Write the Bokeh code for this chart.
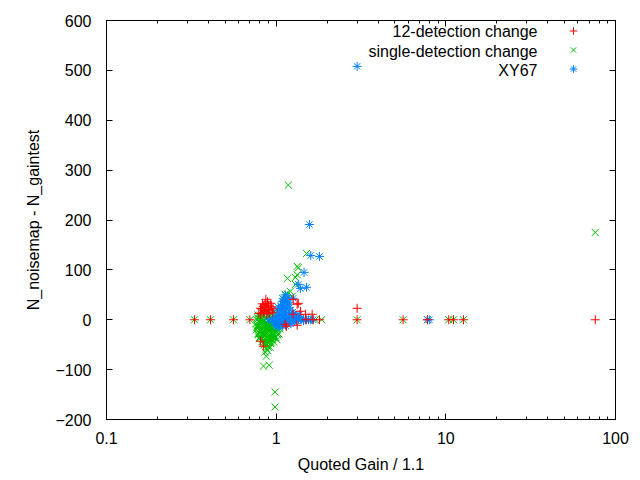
from bokeh.plotting import figure
from bokeh.models import (LogAxis, LinearAxis, Label, Legend, LegendItem,
                          NumeralTickFormatter, FixedTicker, LogTicker)
from bokeh.embed import file_html
from bokeh.resources import INLINE

# ---------------- data ----------------
# 12-detection change (red "+")
det12_gain = [0.33, 0.41, 0.56, 0.70, 3.0, 5.6, 7.8, 10.4, 11.1, 12.7, 76.0, 1.50, 1.65, 1.80,
              3.0, 1.33, 1.35, 0.886, 0.87, 1.39, 1.49, 1.63, 1.33, 1.15, 1.13, 1.26, 0.81, 0.84, 1.26,
              0.82, 0.84, 0.86, 0.88, 0.90, 0.92, 0.94, 0.85, 0.89, 0.83, 0.91, 0.95, 0.81, 0.87,
              0.93, 0.86, 0.84, 0.90, 0.88, 0.96, 0.79, 0.81]
det12_diff = [0, 0, 0, 0, 0, 0, 0, 0, 0, 0, 0, 0, 0, 0,
              23, 31, 33, 33, 41, 17, 11, 11, -11, -13, -9, 11, -43, -53, 41,
              22, 27, 31, 24, 29, 20, 26, 16, 36, 32, 13, 15, 12, 19,
              33, 24, 14, 20, 12, 22, 13, 23]

# single-detection change (green "x")
single_gain = [0.33, 0.41, 0.56, 0.70, 3.0, 5.6, 7.8, 10.4, 11.1, 12.7, 1.55, 1.70, 1.85,
               1.18, 1.51, 1.33, 1.35, 1.165, 1.30, 1.33, 1.165, 1.245, 1.21, 1.13, 1.30, 1.09, 76.0,
               0.875, 0.898, 0.875, 0.842, 0.91, 0.985, 0.985, 0.92, 0.86,
               0.78, 0.80, 0.82, 0.84, 0.86, 0.88, 0.90, 0.92, 0.94, 0.96, 0.98, 1.00, 1.03, 1.05,
               0.79, 0.81, 0.83, 0.85, 0.87, 0.89, 0.91, 0.93, 0.95, 0.97, 0.99, 1.02, 0.84, 0.87,
               0.89, 0.92, 0.86, 0.80, 0.77, 0.76, 0.83, 0.88, 0.90, 0.94, 0.97, 1.01, 1.04, 1.06,
               0.82, 0.86, 0.90, 0.95, 1.00, 0.93, 0.85, 0.91, 0.78, 0.80, 0.88, 0.96, 0.99, 0.84,
               0.77, 0.79, 0.81, 0.83, 0.85, 0.87, 0.89, 0.91, 0.93, 0.95, 0.97, 0.99, 1.01, 1.03,
               0.78, 0.80, 0.82, 0.84, 0.86, 0.88, 0.90, 0.92, 0.94, 0.96, 0.98, 1.00, 0.85, 0.89,
               0.93, 0.87, 0.91, 0.83, 0.95, 0.81,
               0.775, 0.795, 0.815, 0.835, 0.855, 0.875, 0.895, 0.915, 0.935, 0.955, 0.975, 0.995,
               0.775, 0.795, 0.815, 0.835, 0.855, 0.875, 0.895, 0.915, 0.935, 0.955, 0.975, 0.995,
               0.765, 0.785, 0.805, 0.825, 0.845, 0.865, 0.885, 0.905, 0.925, 0.945, 0.965, 0.985,
               1.015, 1.035, 1.05, 1.02]
single_diff = [0, 0, 0, 0, 0, 0, 0, 0, 0, 0, 0, 0, 0,
               270, 133, 107, 104, 83, 85, 90, 51, 47, 57, 51, 71, 43, 175,
               -57, -47, -73, -93, -91, -145, -175, -55, -65,
               10, -5, 5, -15, 12, -25, -8, 3, -20, -35, -12, 8, -5, -18,
               -20, -30, -38, -45, -40, -33, -42, -28, -10, 15, -25, -30, 20, 2,
               18, -18, -8, -12, 0, -8, -25, -50, -55, -40, -45, -40, 5, -10,
               15, -30, 10, 2, -2, -48, -3, -22, -15, -35, -15, -28, 5, 8,
               -15, 3, -2, 8, -20, -12, -2, 7, -5, -25, -30, -35, -20, -12,
               -28, -38, -18, -30, -8, 4, -36, -14, -34, -22, 0, -22, -50, -62,
               12, -48, -30, -10, -40, 0,
               -12, -26, -6, -40, -14, -28, -44, -16, -8, -32, -22, -36,
               4, -36, -20, -2, -32, -6, -22, -34, -46, -2, -8, -16,
               -20, -30, 8, -44, -26, -46, -18, -38, -12, -26, -18, -4,
               -20, -28, -2, 10]

# XY67 (blue "*")
xy67_gain = [3.0, 1.57, 1.60, 1.80, 1.46, 1.35, 1.39, 1.51, 1.26, 1.09, 1.13, 1.17,
             0.90, 0.95, 1.00, 1.05, 1.10, 1.15, 1.20, 1.25, 1.30, 1.35, 1.40, 1.45, 1.50, 1.55,
             1.60, 1.65, 7.8, 8.0,
             0.97, 1.00, 1.02, 1.05, 1.08, 1.10, 1.12, 1.15, 1.18, 1.20, 1.10, 1.05, 0.99, 1.13,
             1.20, 1.25, 1.30, 1.35, 1.28, 1.22, 1.15, 1.07, 1.02, 1.12, 1.40, 1.45, 1.08, 1.17,
             0.98, 1.01, 1.03, 1.06, 1.09, 1.11, 1.14, 1.16, 1.19, 1.23, 1.27, 1.32, 1.37, 1.04,
             1.09, 1.14, 1.24, 1.18, 1.10, 1.06, 1.03]
xy67_diff = [508, 191, 129, 127, 95, 71, 63, 65, 43, 37, 50, 45,
             0, 0, 0, 0, 0, 0, 0, 0, 0, 0, 0, 0, 0, 0,
             0, 0, 0, 0,
             -5, 5, -10, 10, 20, 30, 15, 5, -5, 10, -8, -15, -12, 38,
             25, 15, 8, 5, -3, -8, 22, 2, 18, -3, 3, -2, 25, 32,
             3, -3, 8, -5, 8, 22, 12, 30, 18, 5, 12, -2, 10, -12,
             -10, -12, -5, 35, 42, 28, 25]

legend_labels = ["12-detection change", "single-detection change", "XY67"]
y_ticks = [-200, -100, 0, 100, 200, 300, 400, 500, 600]

RED, GREEN, BLUE = "#ff0000", "#00c000", "#0080ff"
FONT = "Liberation Sans"

p = figure(width=632, height=476, x_axis_type="log", x_range=(0.1, 100), y_range=(-200, 600),
           output_backend="svg", toolbar_location=None,
           min_border_left=106, min_border_right=17, min_border_top=20, min_border_bottom=57)
p.grid.visible = False
p.outline_line_color = "black"
p.outline_line_width = 1
p.background_fill_color = "white"
p.border_fill_color = "white"

# series (green, then blue, then red on top)
r_green = p.scatter(single_gain, single_diff, marker="x", size=10, line_color=GREEN, line_width=1)
r_blue = p.scatter(xy67_gain, xy67_diff, marker="asterisk", size=9, line_color=BLUE, line_width=1)
r_red = p.scatter(det12_gain, det12_diff, marker="cross", size=9, line_color=RED, line_width=1)


def style(ax, show_labels):
    ax.axis_line_color = "black"
    ax.major_tick_in = 6
    ax.major_tick_out = 0
    ax.minor_tick_in = 3
    ax.minor_tick_out = 0
    ax.major_tick_line_color = "black"
    ax.minor_tick_line_color = "black"
    ax.major_label_text_font = FONT
    ax.axis_label_text_font = FONT
    ax.axis_label_text_font_style = "normal"
    ax.axis_label_text_color = "black"
    ax.axis_label_text_font_size = "16px"
    if show_labels:
        ax.major_label_text_font_size = "16px"
        ax.major_label_text_color = "black"
    else:
        ax.major_label_text_font_size = "2px"
        ax.major_label_text_color = None
        ax.major_label_standoff = 0


xa = p.xaxis[0]
xa.ticker = LogTicker(desired_num_ticks=4, num_minor_ticks=10)
xa.formatter = NumeralTickFormatter(format="0.[0]")
style(xa, True)
xa.axis_label = "Quoted Gain / 1.1"
xa.major_label_standoff = 12
xa.axis_label_standoff = 9

ya = p.yaxis[0]
ya.ticker = FixedTicker(ticks=y_ticks, minor_ticks=[])
style(ya, True)
ya.axis_label = "N_noisemap - N_gaintest"
ya.major_label_standoff = 15
ya.axis_label_standoff = 10

top = LogAxis(ticker=LogTicker(desired_num_ticks=4, num_minor_ticks=10))
style(top, False)
p.add_layout(top, "above")

right = LinearAxis(ticker=FixedTicker(ticks=y_ticks, minor_ticks=[]))
style(right, False)
p.add_layout(right, "right")

# legend markers (gnuplot style: marker to the right of right-aligned text)
legend = Legend(items=[LegendItem(label=" ", renderers=[r]) for r in (r_red, r_green, r_blue)],
                location=(457, 341), padding=0, margin=0, spacing=0,
                glyph_width=20, glyph_height=19, label_height=19, label_width=2,
                label_standoff=0, border_line_color=None, background_fill_alpha=0,
                label_text_font_size="10px", label_text_color=None)
p.add_layout(legend)

for i, txt in enumerate(legend_labels):
    p.add_layout(Label(x=431, y=388 - 19.5 * i, x_units="screen", y_units="screen", text=txt,
                       text_align="right", text_baseline="middle", text_font=FONT,
                       text_font_size="16px", text_color="black"))

open("out.html", "w").write(file_html(p, INLINE))
